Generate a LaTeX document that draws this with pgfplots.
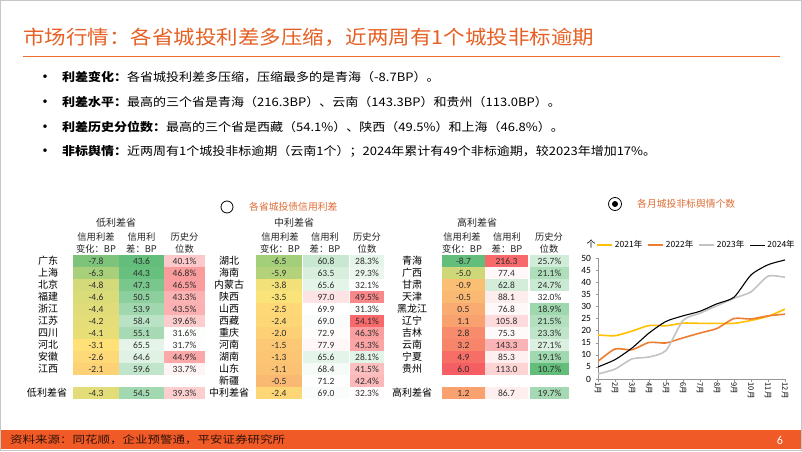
\documentclass[border=0pt]{standalone}
\usepackage{pgfplots}
\pgfplotsset{compat=1.18}
\usepackage{pgfplotstable}
\usepackage{graphicx}
\usepackage{fontspec}
\setmainfont{Carlito}
\newfontfamily\cjk{Noto Sans CJK SC}
\definecolor{ttl}{RGB}{230,95,35}
\definecolor{ttlline}{RGB}{238,110,50}
\definecolor{hdr}{RGB}{222,110,55}
\definecolor{foot}{RGB}{240,90,38}
\definecolor{numtxt}{RGB}{45,45,45}
\definecolor{axgray}{RGB}{150,150,150}
\definecolor{c21}{RGB}{255,192,0}
\definecolor{c22}{RGB}{237,125,49}
\definecolor{c23}{RGB}{195,195,195}
\definecolor{c24}{RGB}{0,0,0}

% cell mark: half width = mark size, height 11.5pt
\pgfdeclareplotmark{cell}{\pgfpathrectangle{\pgfpoint{-\pgfplotmarksize}{-5.75pt}}{\pgfpoint{2\pgfplotmarksize}{11.5pt}}\pgfusepathqfill}

\pgfplotstableread{
y c1 c2 c3
261 -7.8 43.6 40.1
273 -6.3 44.3 46.8
285 -4.8 47.3 46.5
297 -4.6 50.5 43.3
309 -4.4 53.9 43.5
321 -4.2 58.4 39.6
333 -4.1 55.1 31.6
345 -3.1 65.5 31.7
357 -2.6 64.6 44.9
369 -2.1 59.6 33.7
393 -4.3 54.5 39.3
}\low
\pgfplotstableread{
y c1 c2 c3
261 -6.5 60.8 28.3
273 -5.9 63.5 29.3
285 -3.8 65.6 32.1
297 -3.5 97.0 49.5
309 -2.5 69.9 31.3
321 -2.4 69.0 54.1
333 -2.0 72.9 46.3
345 -1.5 77.9 45.3
357 -1.3 65.6 28.1
369 -1.1 68.4 41.5
381 -0.5 71.2 42.4
393 -2.4 69.0 32.3
}\med
\pgfplotstableread{
y c1 c2 c3
261 -8.7 216.3 25.7
273 -5.0 77.4 21.1
285 -0.9 62.8 24.7
297 -0.5 88.1 32.0
309 0.5 76.8 18.9
321 1.1 105.8 21.5
333 2.8 75.3 23.3
345 3.2 143.3 27.1
357 4.9 85.3 19.1
369 6.0 113.0 10.7
393 1.2 86.7 19.7
}\high

\pgfplotstableread{
m y21 y22 y23 y24
1 18.2 7.3 2.1 5.0
2 17.9 12.4 4.1 8.0
3 19.8 12.1 8.3 12.8
4 22.1 15.1 9.1 19.0
5 22.0 14.9 11.8 23.8
6 23.1 17.0 24.2 26.1
7 23.0 19.0 27.2 28.0
8 23.0 20.9 30.3 31.1
9 23.0 25.0 33.4 33.8
10 24.2 24.8 36.0 43.0
11 25.9 26.1 42.5 47.2
12 28.9 26.8 42.0 49.2
}\lines

\pgfplotsset{
  pxaxis/.style={at={(0,0)}, anchor=south west, width=802pt, height=451pt,
    scale only axis, xmin=0, xmax=802, ymin=0, ymax=451, y dir=reverse,
    hide axis, clip=false},
  fillbase/.style={scatter, only marks, mark=cell,
    scatter/use mapped color={draw=none, fill=mapped color}},
  txtbase/.style={only marks, mark=none,
    /pgf/number format/assume math mode=true,
    every node near coord/.append style={anchor=center, inner sep=0pt,
      font=\fontsize{9.5}{10}\selectfont, text=numtxt}},
  fillone/.style={fillbase,
    point meta={ifthenelse(\thisrow{c1}<-3.3,(\thisrow{c1}+8.7)/5.4,ifthenelse(\thisrow{c1}<-0.5,1+(\thisrow{c1}+3.3)/2.8,2+(\thisrow{c1}+0.5)/6.5))}},
  filltwo/.style={fillbase,
    point meta={ifthenelse(\thisrow{c2}<70,(\thisrow{c2}-43.6)/26.4,1+(\thisrow{c2}-70)/146.3)}},
  fillthree/.style={fillbase,
    point meta={ifthenelse(\thisrow{c3}<32,(\thisrow{c3}-10.7)/21.3,1+(\thisrow{c3}-32)/22.1)}},
  txtone/.style={txtbase, point meta={\thisrow{c1}},
    visualization depends on={\thisrow{c1} \as \val},
    nodes near coords={\pgfmathprintnumber[fixed,fixed zerofill,precision=1]{\val}}},
  txttwo/.style={txtbase, point meta={\thisrow{c2}},
    visualization depends on={\thisrow{c2} \as \val},
    nodes near coords={\pgfmathprintnumber[fixed,fixed zerofill,precision=1]{\val}}},
  txtthree/.style={txtbase, point meta={\thisrow{c3}},
    visualization depends on={\thisrow{c3} \as \val},
    nodes near coords={\pgfmathprintnumber[fixed,fixed zerofill,precision=1]{\val}\%}},
}

\begin{document}
\begin{tikzpicture}
\useasboundingbox (0,0) rectangle (802pt,451pt);
\fill[white] (0,0) rectangle (802pt,451pt);

% column 1: spread change
\begin{axis}[pxaxis, point meta min=0, point meta max=3,
  colormap={cone}{rgb255=(99,190,123) rgb255=(255,228,120) rgb255=(250,185,115) rgb255=(245,95,100)}]
\addplot[fillone, mark size=22.75pt] table[x expr=96, y=y] {\low};
\addplot[fillone, mark size=22.75pt] table[x expr=279, y=y] {\med};
\addplot[fillone, mark size=21.25pt] table[x expr=463.5, y=y] {\high};
\addplot[txtone] table[x expr=96, y=y] {\low};
\addplot[txtone] table[x expr=279, y=y] {\med};
\addplot[txtone] table[x expr=463.5, y=y] {\high};
\end{axis}

% column 2: spread level
\begin{axis}[pxaxis, point meta min=0, point meta max=2,
  colormap={ctwo}{rgb255=(99,190,123) rgb255=(255,255,255) rgb255=(248,105,107)}]
\addplot[filltwo, mark size=22.25pt] table[x expr=141.5, y=y] {\low};
\addplot[filltwo, mark size=23.25pt] table[x expr=326, y=y] {\med};
\addplot[filltwo, mark size=21.25pt] table[x expr=506.5, y=y] {\high};
\addplot[txttwo] table[x expr=141.5, y=y] {\low};
\addplot[txttwo] table[x expr=326, y=y] {\med};
\addplot[txttwo] table[x expr=506.5, y=y] {\high};
\end{axis}

% column 3: percentile
\begin{axis}[pxaxis, point meta min=0, point meta max=2,
  colormap={cthree}{rgb255=(99,190,123) rgb255=(255,255,255) rgb255=(248,105,107)}]
\addplot[fillthree, mark size=20.25pt] table[x expr=184.5, y=y] {\low};
\addplot[fillthree, mark size=16.75pt] table[x expr=367, y=y] {\med};
\addplot[fillthree, mark size=19.25pt] table[x expr=549.5, y=y] {\high};
\addplot[txtthree] table[x expr=184.5, y=y] {\low};
\addplot[txtthree] table[x expr=367, y=y] {\med};
\addplot[txtthree] table[x expr=549.5, y=y] {\high};
\end{axis}

% line chart
\begin{axis}[at={(598pt,72pt)}, anchor=south west, width=187pt, height=121pt,
  scale only axis, xmin=1, xmax=12, ymin=0, ymax=50,
  xtick={1,...,12}, xticklabels={1月,2月,3月,4月,5月,6月,7月,8月,9月,10月,11月,12月},
  ytick={0,5,...,50},
  axis x line*=bottom, axis y line*=left,
  axis line style={axgray,-}, tick style={axgray, line width=0.4pt},
  tick align=outside, major tick length=2.5pt,
  /pgf/number format/assume math mode=true,
  x tick label style={rotate=-90, anchor=west, font=\cjk\fontsize{7.5}{8}\selectfont, inner sep=1pt},
  y tick label style={font=\fontsize{9.5}{10}\selectfont, xshift=-1pt},
  legend style={at={(-0.01,1.107)}, anchor=west, draw=none, fill=none,
    legend columns=4, font=\cjk\fontsize{8.5}{9}\selectfont, inner sep=0pt,
    /tikz/every even column/.append style={column sep=3pt}},
  legend cell align=left,
  legend image code/.code={\draw[#1] (0pt,0pt) -- (15pt,0pt);},
]
\addplot[c21, line width=1.6pt, smooth, tension=0.4, mark=none] table[x=m, y=y21] {\lines};
\addlegendentry{2021年}
\addplot[c22, line width=1.6pt, smooth, tension=0.4, mark=none] table[x=m, y=y22] {\lines};
\addlegendentry{2022年}
\addplot[c23, line width=1.6pt, smooth, tension=0.4, mark=none] table[x=m, y=y23] {\lines};
\addlegendentry{2023年}
\addplot[c24, line width=1.1pt, smooth, tension=0.4, mark=none] table[x=m, y=y24] {\lines};
\addlegendentry{2024年}
\end{axis}

\begin{scope}[x=1pt, y=-1pt, shift={(0pt,451pt)}]
% frame
\draw[gray!45, line width=0.6pt] (0.5,0.5) rectangle (801.5,450.5);
% title
\node[anchor=west, inner sep=0pt, text=ttl] at (23,37)
  {\scalebox{1}[0.9]{\cjk\fontsize{21.5}{22}\selectfont 市场行情：各省城投利差多压缩，近两周有1个城投非标逾期}};
\draw[ttlline, line width=1.6pt] (23,56.5) -- (780,56.5);
% bullets
\foreach \yy in {77,102,127,151} \node[inner sep=0pt] at (45,\yy) {\fontsize{10}{10}\selectfont\textbullet};
\node[anchor=west, inner sep=0pt] at (62,77) {\scalebox{1}[0.9]{\cjk\fontsize{13}{13}\selectfont{\bfseries 利差变化：}各省城投利差多压缩，压缩最多的是青海（-8.7BP）。}};
\node[anchor=west, inner sep=0pt] at (62,102) {\scalebox{1}[0.9]{\cjk\fontsize{13}{13}\selectfont{\bfseries 利差水平：}最高的三个省是青海（216.3BP）、云南（143.3BP）和贵州（113.0BP）。}};
\node[anchor=west, inner sep=0pt] at (62,127) {\scalebox{1}[0.9]{\cjk\fontsize{13}{13}\selectfont{\bfseries 利差历史分位数：}最高的三个省是西藏（54.1\%）、陕西（49.5\%）和上海（46.8\%）。}};
\node[anchor=west, inner sep=0pt] at (62,151) {\scalebox{1}[0.9]{\cjk\fontsize{13}{13}\selectfont{\bfseries 非标舆情：}近两周有1个城投非标逾期（云南1个）；2024年累计有49个非标逾期，较2023年增加17\%。}};
% section headers
\draw[line width=0.8pt] (227,207) circle (6pt);
\node[anchor=west, inner sep=0pt, text=hdr] at (249,207) {\cjk\fontsize{9.8}{10}\selectfont 各省城投债信用利差};
\draw[line width=0.8pt] (615,204) circle (6.5pt);
\fill (615,204) circle (3pt);
\node[anchor=west, inner sep=0pt, text=hdr] at (637,204) {\cjk\fontsize{9.8}{10}\selectfont 各月城投非标舆情个数};
% table headers
\tikzset{th/.style={inner sep=0pt, font=\cjk\fontsize{9.3}{10}\selectfont, text=black!85}}
\node[th, font=\cjk\fontsize{10}{10}\selectfont] at (116,223) {低利差省};
\node[th, font=\cjk\fontsize{10}{10}\selectfont] at (294,223) {中利差省};
\node[th, font=\cjk\fontsize{10}{10}\selectfont] at (477,223) {高利差省};
\foreach \xa/\xb/\xc in {96/141.5/184.5, 280/325/367, 462/507/549}{
  \node[th] at (\xa,237) {信用利差};
  \node[th] at (\xa,248.5) {变化：BP};
  \node[th] at (\xb,237) {信用利};
  \node[th] at (\xb,248.5) {差：BP};
  \node[th] at (\xc,237) {历史分};
  \node[th] at (\xc,248.5) {位数};
}
% row names
\tikzset{rn/.style={inner sep=0pt, font=\cjk\fontsize{10}{10}\selectfont}}
\foreach \n [count=\i from 0] in {广东,上海,北京,福建,浙江,江苏,四川,河北,安徽,江西}
  \node[rn] at (48,{261+12*\i}) {\n};
\foreach \n [count=\i from 0] in {湖北,海南,内蒙古,陕西,山西,西藏,重庆,河南,湖南,山东,新疆}
  \node[rn] at (229,{261+12*\i}) {\n};
\foreach \n [count=\i from 0] in {青海,广西,甘肃,天津,黑龙江,辽宁,吉林,云南,宁夏,贵州}
  \node[rn] at (412,{261+12*\i}) {\n};
\node[rn] at (47,393) {低利差省};
\node[rn] at (229,393) {中利差省};
\node[rn] at (412,393) {高利差省};
% unit label
\node[inner sep=0pt, font=\cjk\fontsize{9}{9}\selectfont] at (591,244) {个};
% footer
\fill[foot] (1,430) rectangle (801,449);
\node[anchor=west, inner sep=0pt, text=black!80!foot] at (10,440) {\scalebox{1}[0.82]{\cjk\fontsize{12.5}{13}\selectfont 资料来源：同花顺，企业预警通，平安证券研究所}};
\node[inner sep=0pt, text=white] at (780,440) {\fontsize{12}{12}\selectfont 6};
\end{scope}
\end{tikzpicture}
\end{document}
